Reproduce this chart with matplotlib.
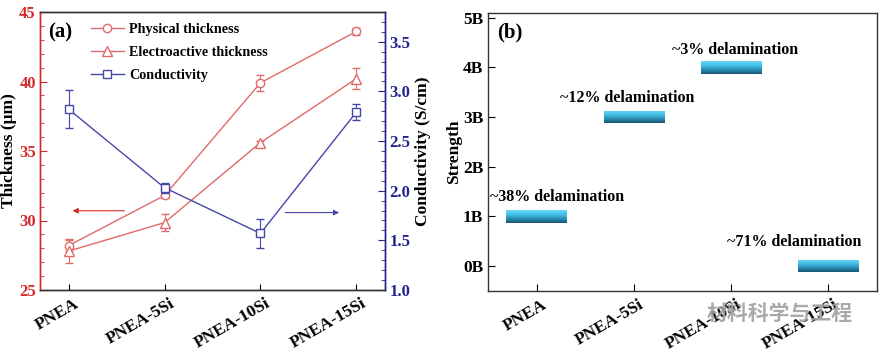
import numpy as np
import matplotlib
matplotlib.use("Agg")
import matplotlib.pyplot as plt
import matplotlib.transforms as mtrans
from matplotlib.ticker import MultipleLocator
from matplotlib.colors import LinearSegmentedColormap
from matplotlib.lines import Line2D

plt.rcParams['font.family'] = ['Liberation Serif', 'DejaVu Serif']
plt.rcParams['font.weight'] = 'bold'

# ---------------- data ----------------
categories = ["PNEA", "PNEA-5Si", "PNEA-10Si", "PNEA-15Si"]
physical = [28.2, 31.8, 39.9, 43.6]
physical_err = [0.4, 0.2, 0.55, 0.25]
electro = [27.8, 29.85, 35.6, 40.2]
electro_err = [0.85, 0.6, 0.15, 0.75]
conductivity = [2.82, 2.03, 1.57, 2.79]
conductivity_err = [0.19, 0.05, 0.15, 0.08]

strength = [1, 3, 4, 0]
strength_labels = ["0B", "1B", "2B", "3B", "4B", "5B"]
delam_labels = ["~38% delamination", "~12% delamination",
                "~3% delamination", "~71% delamination"]

red = '#e06a6a'
red_axis = '#d42a2a'
blue = '#4646a8'
blue_axis = '#22228c'

fig = plt.figure(figsize=(8.84, 3.53), dpi=100)

# ---------------- panel (a) ----------------
ax1 = fig.add_axes([40/884, 1-290/353, 345/884, 278/353])
ax2 = ax1.twinx()
x = np.arange(len(categories))

ax1.errorbar(x, physical, yerr=physical_err, color=red, lw=1, marker='o',
             mfc='white', mec=red, ms=6, capsize=3, elinewidth=0.8)
ax1.errorbar(x, electro, yerr=electro_err, color=red, lw=1, marker='^',
             mfc='white', mec=red, ms=6.5, capsize=3, elinewidth=0.8)
ax2.errorbar(x, conductivity, yerr=conductivity_err, color=blue, lw=1,
             marker='s', mfc='white', mec=blue, ms=6, capsize=3,
             elinewidth=0.8)

ax1.set_xlim(-0.3, 3.3)
ax1.set_ylim(25, 45)
ax2.set_ylim(1.0, 3.8)
ax1.set_xticks(x)
ax1.set_xticklabels(categories, rotation=30, ha='right', rotation_mode='anchor',
                    fontsize=12.5, fontweight='bold')
ax1.yaxis.set_major_locator(MultipleLocator(5))
ax1.yaxis.set_minor_locator(MultipleLocator(1))
ax2.yaxis.set_major_locator(MultipleLocator(0.5))
ax2.yaxis.set_minor_locator(MultipleLocator(0.1))
ax2.yaxis.set_major_formatter(matplotlib.ticker.FormatStrFormatter('%.1f'))

ax1.tick_params(axis='x', direction='in', length=4, width=0.8, pad=4)
ax1.tick_params(axis='y', which='major', direction='in', length=5, width=0.8,
                colors=red_axis, labelsize=12, pad=3)
ax1.tick_params(axis='y', which='minor', direction='in', length=3, width=0.6,
                colors=red_axis)
ax2.tick_params(axis='y', which='major', direction='in', length=5, width=0.8,
                colors=blue_axis, labelsize=12, pad=3)
ax2.tick_params(axis='y', which='minor', direction='in', length=3, width=0.6,
                colors=blue_axis)
for lab in ax1.get_yticklabels() + ax2.get_yticklabels():
    lab.set_fontweight('bold')

ax2.spines['left'].set_color(red_axis)
ax2.spines['right'].set_color(blue_axis)
ax1.spines['left'].set_color(red_axis)
ax1.spines['right'].set_color(blue_axis)
for ax in (ax1, ax2):
    for s in ax.spines.values():
        s.set_linewidth(1.0)
    ax.spines['top'].set_color('#333333')
    ax.spines['bottom'].set_color('#333333')

ax1.set_ylabel('Thickness (μm)', fontsize=12.5, fontweight='bold',
               va='center', ha='center')
ax1.yaxis.set_label_coords(-0.090, 0.5)
ax2.set_ylabel('Conductivity (S/cm)', fontsize=12.5, fontweight='bold',
               va='center', ha='center')
ax2.yaxis.set_label_coords(1.110, 0.5)

ax1.annotate('', xy=(0.01, 30.7), xytext=(0.61, 30.7),
             arrowprops=dict(arrowstyle='-|>', color=red_axis, lw=0.8,
                             mutation_scale=8))
ax2.annotate('', xy=(2.85, 1.78), xytext=(2.23, 1.78),
             arrowprops=dict(arrowstyle='-|>', color=blue, lw=0.8,
                             mutation_scale=8))

ax1.text(0.023, 0.928, '(a)', transform=ax1.transAxes, fontsize=15,
         fontweight='bold', va='center', ha='left')

handles = [Line2D([], [], color=red, lw=1, marker='o', mfc='white', mec=red, ms=6),
           Line2D([], [], color=red, lw=1, marker='^', mfc='white', mec=red, ms=6.5),
           Line2D([], [], color=blue, lw=1, marker='s', mfc='white', mec=blue, ms=6)]
leg = ax1.legend(handles,
                 ['Physical thickness', 'Electroactive thickness', 'Conductivity'],
                 loc='upper left', bbox_to_anchor=(0.148, 0.962), frameon=False,
                 fontsize=10.2, handlelength=2.3, labelspacing=0.72,
                 borderpad=0, borderaxespad=0, handletextpad=0.4)
for t in leg.get_texts():
    t.set_fontweight('bold')

# ---------------- panel (b) ----------------
bx = fig.add_axes([488/884, 1-291/353, 389/884, 278.3/353])
bar_h = 0.25
bar_w = 0.62
bars = bx.bar(x, [bar_h]*len(strength), bottom=np.array(strength) - bar_h/2,
              width=bar_w, color='#2aa0cc', zorder=2)
cmap = LinearSegmentedColormap.from_list(
    'g', ['#1a5570', '#2a8fb5', '#44c0e8', '#6ad8f8'])
grad = np.linspace(0, 1, 64).reshape(-1, 1)
for b in bars:
    x0, y0 = b.get_x(), b.get_y()
    w, h = b.get_width(), b.get_height()
    im = bx.imshow(grad, extent=(x0, x0 + w, y0, y0 + h), origin='lower',
                   cmap=cmap, aspect='auto', zorder=3)
    im.set_clip_path(b)

label_pos = [(0.21, 1.40), (0.93, 3.38), (2.04, 4.35), (2.65, 0.48)]
for lab, (tx, ty) in zip(delam_labels, label_pos):
    bx.text(tx, ty, lab, fontsize=11.5, fontweight='bold', ha='center',
            va='center')

bx.set_xlim(-0.5, 3.5)
bx.set_ylim(-0.5, 5.1)
bx.set_xticks(x)
bx.set_xticklabels(categories, rotation=30, ha='right', rotation_mode='anchor',
                   fontsize=12.5, fontweight='bold')
bx.set_yticks(range(len(strength_labels)))
bx.set_yticklabels(strength_labels, fontsize=12.5, fontweight='bold')
bx.tick_params(axis='both', direction='in', length=5, width=0.8)
bx.tick_params(axis='x', pad=4)
for s in bx.spines.values():
    s.set_linewidth(1.0)
    s.set_color('#333333')
bx.set_ylabel('Strength', fontsize=12.5, fontweight='bold',
              va='center', ha='center')
bx.yaxis.set_label_coords(-0.087, 0.5)
bx.text(0.023, 0.93, '(b)', transform=bx.transAxes, fontsize=15,
        fontweight='bold', va='center', ha='left')

# shift rotated tick labels slightly right, as in the reference
shift = mtrans.ScaledTranslation(5/100, 0, fig.dpi_scale_trans)
for lab in ax1.get_xticklabels() + bx.get_xticklabels():
    lab.set_transform(lab.get_transform() + shift)

# watermark
fig.text(707/884, 1-313/353, '材料科学与工程', fontsize=15, color='#a0a0a0',
         family=['Noto Sans CJK SC', 'DejaVu Sans'], va='center', ha='left',
         alpha=0.9)

fig.savefig('out.png', dpi=100)
